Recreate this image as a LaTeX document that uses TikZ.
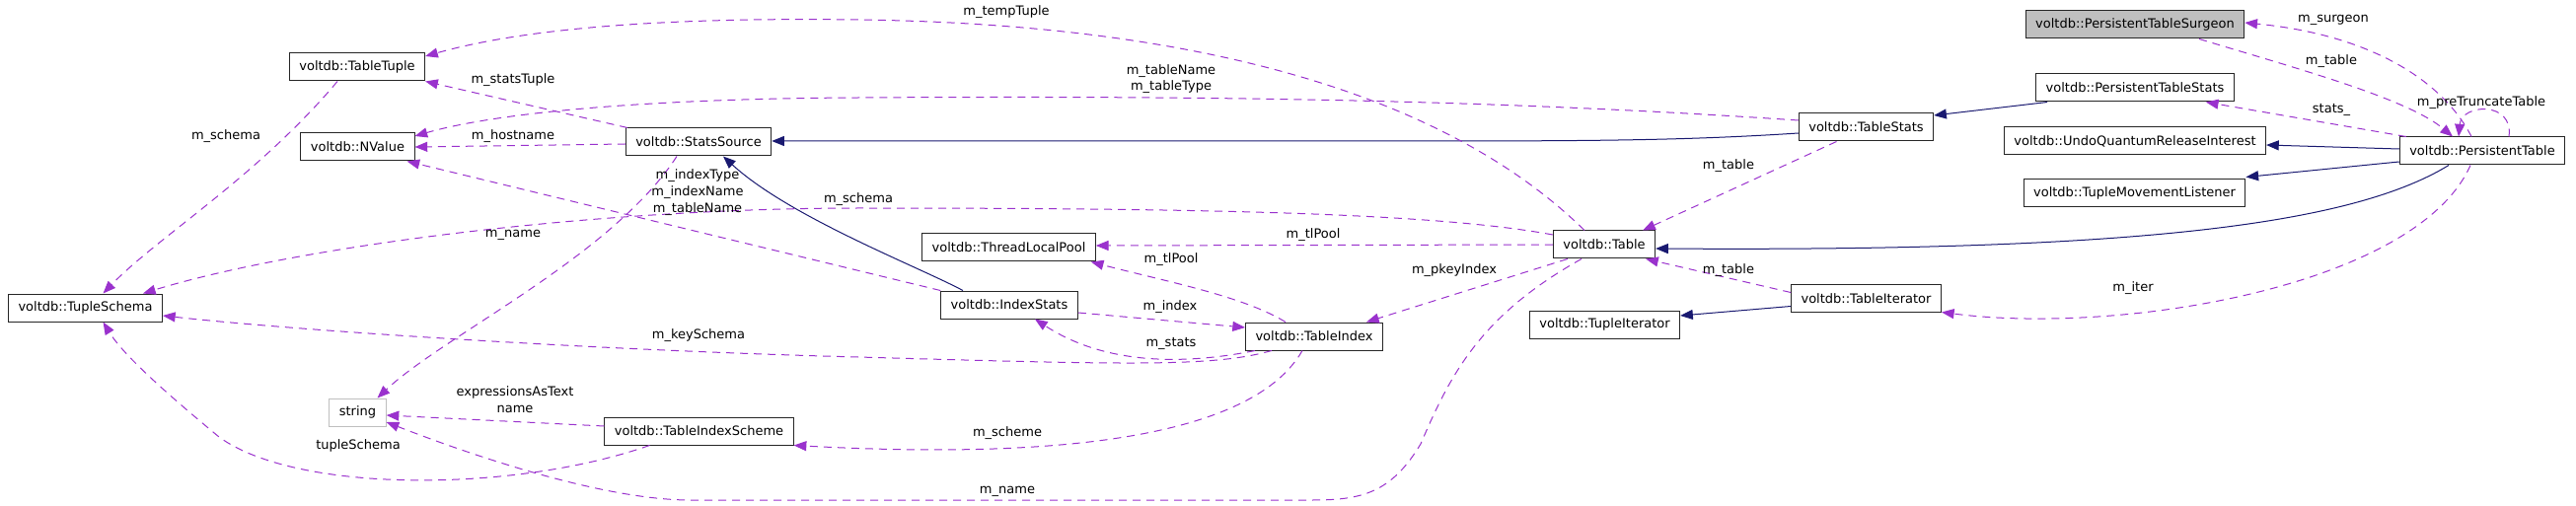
\documentclass[tikz,border=0pt]{standalone}
\usepackage{fontspec}
\setmainfont{DejaVu Sans}
\usepackage{tikz}
\usepackage{xcolor}
\usetikzlibrary{arrows.meta,calc}
\definecolor{usecol}{HTML}{9A32CD}
\definecolor{inhcol}{HTML}{191970}

\begin{document}
\begin{tikzpicture}[x=0.75pt,y=-0.75pt,
  font=\fontsize{9.75}{12.5}\selectfont,
  cls/.style={draw=black!85,line width=0.75pt,fill=white,minimum height=21pt,inner xsep=7.5pt,inner ysep=0pt},
  usage/.style={color=usecol,line width=0.75pt,dash pattern=on 6pt off 4.5pt,-{Triangle[length=9.5pt,width=7.5pt]}},
  inh/.style={color=inhcol,line width=0.75pt,-{Triangle[length=9.5pt,width=7.5pt]}},
  lbl/.style={inner sep=0pt,align=center}]
\useasboundingbox (0,0) rectangle (2611,513);
% classes
\node[cls] (TableTuple) at (362,68) {voltdb::TableTuple};
\node[cls] (NValue) at (362.5,149) {voltdb::NValue};
\node[cls] (StatsSource) at (708,144) {voltdb::StatsSource};
\node[cls] (TupleSchema) at (86.5,312) {voltdb::TupleSchema};
\node[cls,draw=black!25] (string) at (362.5,418) {string};
\node[cls] (TableIndexScheme) at (708.5,437) {voltdb::TableIndexScheme};
\node[cls] (ThreadLocalPool) at (1022.5,251) {voltdb::ThreadLocalPool};
\node[cls] (IndexStats) at (1023,309) {voltdb::IndexStats};
\node[cls] (TableIndex) at (1332,341) {voltdb::TableIndex};
\node[cls] (Table) at (1626,248) {voltdb::Table};
\node[cls] (TupleIterator) at (1626.5,329) {voltdb::TupleIterator};
\node[cls] (TableStats) at (1891.5,129) {voltdb::TableStats};
\node[cls] (TableIterator) at (1891.5,302.5) {voltdb::TableIterator};
\node[cls,fill=black!25] (PersistentTableSurgeon) at (2164,25) {voltdb::PersistentTableSurgeon};
\node[cls] (PersistentTableStats) at (2164,89) {voltdb::PersistentTableStats};
\node[cls] (UndoQuantumReleaseInterest) at (2164,143) {voltdb::UndoQuantumReleaseInterest};
\node[cls] (TupleMovementListener) at (2163.5,196) {voltdb::TupleMovementListener};
\node[cls] (PersistentTable) at (2516,153) {voltdb::PersistentTable};

% inheritance
\draw[inh] ($(TableStats.west)+(0,6)$) .. controls (1700,143) and (1600,143) .. (1400,143) -- ($(StatsSource.east)+(0,-1)$);
\draw[inh] ($(IndexStats.north)+(-47,0)$) .. controls (930,270) and (800,220) .. ($(StatsSource.south)+(25,0)$);
\draw[inh] ($(PersistentTableStats.south west)+(12,0)$) -- ($(TableStats.east)+(0,-12)$);
\draw[inh] ($(PersistentTable.west)+(0,-2)$) -- ($(UndoQuantumReleaseInterest.east)+(0,4)$);
\draw[inh] ($(PersistentTable.west)+(0,11)$) -- ($(TupleMovementListener.north east)+(0,-2)$);
\draw[inh] ($(PersistentTable.south)+(-34,0)$) .. controls (2380,230) and (2150,255) .. ($(Table.east)+(0,4)$);
\draw[inh] ($(TableIterator.west)+(0,8)$) -- ($(TupleIterator.east)+(0,-9)$);

% members
\draw[usage] ($(Table.north)+(-20,0)$) .. controls (1480,110) and (1250,25) .. (870,20) .. controls (650,17) and (520,32) .. ($(TableTuple.east)+(0,-11)$);
\draw[usage] ($(StatsSource.north)+(-72,0)$) -- (TableTuple.south east);
\draw[usage] ($(TableTuple.south)+(-20,0)$) .. controls (260,180) and (160,240) .. ($(TupleSchema.north)+(18,0)$);
\draw[usage] ($(TableStats.west)+(0,-7)$) .. controls (1500,100) and (1200,97) .. (870,99) .. controls (650,100) and (500,115) .. ($(NValue.east)+(0,-11)$);
\draw[usage] ($(StatsSource.west)+(0,2)$) -- (NValue.east);
\draw[usage] (IndexStats.north west) -- ($(NValue.south east)+(-8,0)$);
\draw[usage] ($(Table.west)+(0,-10)$) .. controls (1450,215) and (1200,211) .. (870,211) .. controls (600,211) and (300,250) .. ($(TupleSchema.north east)+(-20,0)$);
\draw[usage] ($(StatsSource.south)+(-22,0)$) .. controls (620,260) and (450,340) .. ($(string.north)+(20,0)$);
\draw[usage] ($(TableIndex.south west)+(27,0)$) .. controls (1230,372) and (1150,370) .. (870,362) .. controls (600,355) and (300,335) .. ($(TupleSchema.east)+(0,8)$);
\draw[usage] ($(TableIndexScheme.south)+(-50,0)$) .. controls (520,500) and (300,500) .. (222,443) .. controls (170,400) and (125,360) .. ($(TupleSchema.south)+(18,0)$);
\draw[usage] ($(TableIndexScheme.west)+(0,-5)$) -- ($(string.east)+(0,3)$);
\draw[usage] ($(Table.south)+(-23,0)$) .. controls (1500,320) and (1470,380) .. (1440,450) .. controls (1410,500) and (1380,507) .. (1330,507) -- (700,507) .. controls (620,507) and (500,470) .. ($(string.east)+(0,10)$);
\draw[usage] (Table.west) -- ($(ThreadLocalPool.east)+(0,-2)$);
\draw[usage] ($(TableIndex.north)+(-29,0)$) .. controls (1260,300) and (1180,285) .. ($(ThreadLocalPool.south east)+(-5,0)$);
\draw[usage] ($(IndexStats.east)+(0,8)$) -- ($(TableIndex.west)+(0,-9)$);
\draw[usage] ($(TableIndex.south west)+(10,0)$) .. controls (1200,370) and (1120,370) .. ($(IndexStats.south)+(26,0)$);
\draw[usage] ($(Table.south west)+(15,0)$) -- ($(TableIndex.north east)+(-17,0)$);
\draw[usage] ($(TableIndex.south)+(-12,0)$) .. controls (1260,460) and (1000,462) .. (TableIndexScheme.south east);
\draw[usage] ($(TableStats.south)+(-30,0)$) -- ($(Table.north east)+(-13,0)$);
\draw[usage] ($(TableIterator.west)+(0,-6)$) -- ($(Table.south east)+(-10,0)$);
\draw[usage] ($(PersistentTable.north)+(-11,0)$) .. controls (2475,80) and (2400,35) .. ($(PersistentTableSurgeon.east)+(0,-2)$);
\draw[usage] ($(PersistentTableSurgeon.south)+(65,0)$) .. controls (2330,70) and (2440,100) .. ($(PersistentTable.north)+(-30,0)$);
\draw[usage] ($(PersistentTable.north west)+(7,0)$) -- ($(PersistentTableStats.south east)+(-29,0)$);
\draw[usage] ($(PersistentTable.north)+(27,0)$) .. controls (2548,102) and (2495,105) .. ($(PersistentTable.north)+(-24,0)$);
\draw[usage] ($(PersistentTable.south)+(-12,0)$) .. controls (2450,290) and (2150,340) .. ($(TableIterator.east)+(0,14)$);

% labels
\node[lbl] (lTempTuple) at (1020,12) {m\_tempTuple};
\node[lbl] (lStatsTuple) at (520,81) {m\_statsTuple};
\node[lbl] (lTupleSchema) at (229,138) {m\_schema};
\node[lbl] (lTableName) at (1187,80) {m\_tableName\\m\_tableType};
\node[lbl] (lHostname) at (520,138) {m\_hostname};
\node[lbl] (lIndexType) at (707,195) {m\_indexType\\m\_indexName\\m\_tableName};
\node[lbl] (lSchema) at (870,202) {m\_schema};
\node[lbl] (lStatsName) at (520,238) {m\_name};
\node[lbl] (lKeySchema) at (708,340) {m\_keySchema};
\node[lbl] (lSchemeTuple) at (363,452) {tupleSchema};
\node[lbl] (lExprText) at (522,405) {expressionsAsText\\name};
\node[lbl] (lTableName2) at (1021,498) {m\_name};
\node[lbl] (lTlPool) at (1331,238) {m\_tlPool};
\node[lbl] (lTlPool2) at (1187,263) {m\_tlPool};
\node[lbl] (lIndex) at (1186,311) {m\_index};
\node[lbl] (lStats) at (1187,348) {m\_stats};
\node[lbl] (lPkeyIndex) at (1474,274) {m\_pkeyIndex};
\node[lbl] (lScheme) at (1021,439) {m\_scheme};
\node[lbl] (lStatsTable) at (1752,168) {m\_table};
\node[lbl] (lIterTable) at (1752,274) {m\_table};
\node[lbl] (lSurgeon) at (2365,20) {m\_surgeon};
\node[lbl] (lSurgeonTable) at (2363,62) {m\_table};
\node[lbl] (lPTStats) at (2363,111) {stats\_};
\node[lbl] (lPreTruncate) at (2515,104) {m\_preTruncateTable};
\node[lbl] (lIter) at (2162,292) {m\_iter};
\end{tikzpicture}
\end{document}
